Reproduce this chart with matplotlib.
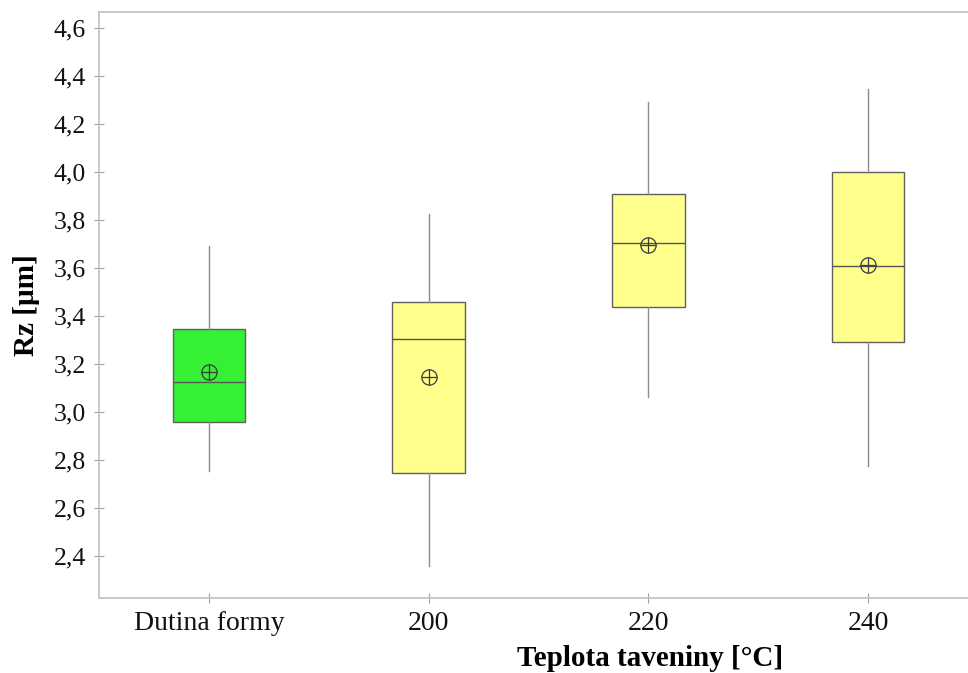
import matplotlib
matplotlib.use("Agg")
import matplotlib.pyplot as plt
from matplotlib.ticker import FuncFormatter

# Rz roughness per melt temperature group
categories = ["Dutina formy", "200", "220", "240"]
whisker_low = [2.754, 2.358, 3.062, 2.775]
q1 = [2.958, 2.746, 3.438, 3.292]
median = [3.125, 3.304, 3.704, 3.608]
q3 = [3.346, 3.458, 3.908, 4.000]
whisker_high = [3.692, 3.825, 4.292, 4.346]
mean = [3.167, 3.146, 3.696, 3.612]
box_colors = ["#36f036", "#ffff8c", "#ffff8c", "#ffff8c"]

plt.rcParams["font.family"] = ["Liberation Serif", "DejaVu Serif"]

fig = plt.figure(figsize=(9.68, 6.73), dpi=100)
ax = fig.add_axes([99 / 968, 1 - 598 / 673, 1 - 99 / 968, (598 - 12) / 673])

stats = [dict(label=c, whislo=wl, q1=a, med=m, q3=b, whishi=wh, fliers=[])
         for c, wl, a, m, b, wh in zip(categories, whisker_low, q1, median, q3, whisker_high)]
pos = list(range(len(categories)))
bp = ax.bxp(stats, positions=pos, widths=0.33, patch_artist=True, showcaps=False,
            boxprops=dict(edgecolor="#606060", linewidth=1.0),
            whiskerprops=dict(color="#8c8c8c", linewidth=1.0),
            medianprops=dict(color="#555555", linewidth=1.0))
for patch, col in zip(bp["boxes"], box_colors):
    patch.set_facecolor(col)

# mean shown as a crossed circle
ax.plot(pos, mean, ls="none", marker="o", ms=11, mfc="none", mec="#3a3a3a", mew=0.9, zorder=5)
ax.plot(pos, mean, ls="none", marker="+", ms=11, mec="#3a3a3a", mew=0.9, zorder=5)

ax.set_xlim(-0.5, 3.455)
ax.set_ylim(2.225, 4.667)
ax.set_yticks([2.4, 2.6, 2.8, 3.0, 3.2, 3.4, 3.6, 3.8, 4.0, 4.2, 4.4, 4.6])
ax.yaxis.set_major_formatter(FuncFormatter(lambda v, _: f"{v:.1f}".replace(".", ",")))
ax.set_xticks(pos)
ax.set_xticklabels(categories)

for s in ("top", "left", "bottom"):
    ax.spines[s].set_color("#c0c0c0")
    ax.spines[s].set_linewidth(1.2)
ax.spines["right"].set_visible(False)
ax.tick_params(direction="inout", length=7, color="#a0a0a0", labelcolor="#111111")
ax.tick_params(axis="y", pad=6, labelsize=18.5)
ax.tick_params(axis="x", pad=6, labelsize=20)

ax.set_ylabel("Rz [µm]", fontsize=21, fontweight="bold", labelpad=10)
fig.text(650 / 968, 1 - 659 / 673, "Teplota taveniny [°C]", fontsize=21, fontweight="bold",
         ha="center", va="center")

fig.savefig("out.png", dpi=100)
